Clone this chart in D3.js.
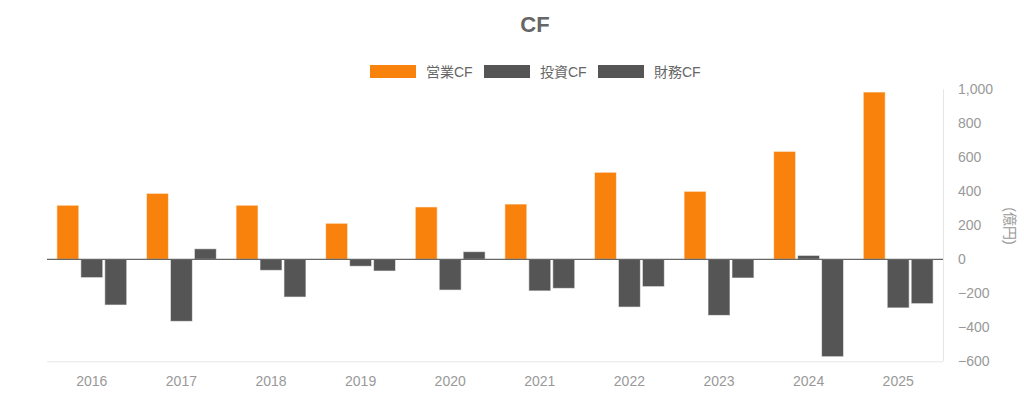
<!DOCTYPE html>
<html>
<head>
<meta charset="utf-8">
<script src="https://cdn.jsdelivr.net/npm/d3@7"></script>
<style>
  body { margin: 0; background: #fff; }
  text { font-family: "Liberation Sans", Arial, "Noto Sans CJK JP", sans-serif; }
</style>
</head>
<body>
<script>
// categories and series (億円)
const years = ["2016", "2017", "2018", "2019", "2020", "2021", "2022", "2023", "2024", "2025"];
const seriesNames = ["営業CF", "投資CF", "財務CF"];
const operating = [318, 388, 318, 212, 308, 325, 512, 400, 635, 984];
const investing = [-108, -365, -65, -41, -181, -186, -281, -330, 23, -286];
const financing = [-269, 62, -222, -69, 45, -171, -161, -110, -573, -261];
const yTicks = [-600, -400, -200, 0, 200, 400, 600, 800, 1000];
const colors = ["#f8820b", "#555555", "#555555"];

var width = 1024,
    height = 395;

const plotLeft = 47, plotRight = 943, plotTop = 89.3, plotBottom = 361.3;

var svg = d3.select('body').append('svg')
    .attr('width', width)
    .attr('height', height);

// title
svg.append('text')
    .attr('x', 535)
    .attr('y', 32)
    .attr('text-anchor', 'middle')
    .attr('font-size', 22)
    .attr('font-weight', 'bold')
    .attr('fill', '#666')
    .text('CF');

// legend
const legendX = [370, 484, 598];
const legend = svg.selectAll('.legend')
    .data(seriesNames)
    .enter()
    .append('g')
    .attr('class', 'legend')
    .attr('transform', function(d, i) { return 'translate(' + legendX[i] + ',65)'; });

legend.append('rect')
    .attr('width', 46)
    .attr('height', 13)
    .attr('fill', function(d, i) { return colors[i]; });

legend.append('text')
    .attr('x', 56)
    .attr('y', 11.5)
    .attr('font-size', 14)
    .attr('fill', '#666')
    .text(function(d) { return d; });

// scales
const x = d3.scaleBand()
    .domain(years)
    .range([plotLeft, plotRight])
    .paddingInner(0.22)
    .paddingOuter(0.11);

const xSub = d3.scaleBand()
    .domain(d3.range(seriesNames.length))
    .range([0, x.bandwidth()])
    .paddingInner(0.083);

const y = d3.scaleLinear()
    .domain([-600, 1000])
    .range([plotBottom, plotTop]);

// right axis line and bottom line
svg.append('line')
    .attr('x1', plotRight + 0.5).attr('x2', plotRight + 0.5)
    .attr('y1', plotTop).attr('y2', plotBottom)
    .attr('stroke', '#e6e6e6');

svg.append('line')
    .attr('x1', plotLeft).attr('x2', plotRight)
    .attr('y1', plotBottom + 0.5).attr('y2', plotBottom + 0.5)
    .attr('stroke', '#e6e6e6');

// bars
const rows = [];
years.forEach(function(yr, i) {
    [operating, investing, financing].forEach(function(s, j) {
        rows.push({ year: yr, s: j, v: s[i] });
    });
});

svg.selectAll('rect.bar')
    .data(rows)
    .enter()
    .append('rect')
    .attr('class', 'bar')
    .attr('x', function(d) { return x(d.year) + xSub(d.s); })
    .attr('y', function(d) { return y(Math.max(0, d.v)); })
    .attr('width', xSub.bandwidth())
    .attr('height', function(d) { return Math.abs(y(d.v) - y(0)); })
    .attr('fill', function(d) { return colors[d.s]; })
    .attr('stroke', '#fff')
    .attr('stroke-width', 1)
    .attr('stroke-opacity', 0.6);

// zero line
svg.append('line')
    .attr('x1', plotLeft).attr('x2', plotRight)
    .attr('y1', y(0)).attr('y2', y(0))
    .attr('stroke', '#666')
    .attr('stroke-width', 1.2);

// x labels
const xAxis = svg.append('g')
    .attr('transform', 'translate(0,' + plotBottom + ')')
    .call(d3.axisBottom(x).tickSize(0).tickPadding(15));
xAxis.select('.domain').remove();
xAxis.selectAll('text')
    .attr('font-size', 14)
    .attr('fill', '#999')
    .style('font-family', '"Liberation Sans", Arial, sans-serif');

// y labels
const yAxis = svg.append('g')
    .attr('transform', 'translate(' + plotRight + ',0)')
    .call(d3.axisRight(y).tickValues(yTicks).tickSize(0).tickPadding(15).tickFormat(d3.format(',')));
yAxis.select('.domain').remove();
yAxis.selectAll('text')
    .attr('font-size', 14)
    .attr('fill', '#999')
    .style('font-family', '"Liberation Sans", Arial, sans-serif');

// unit label
svg.append('text')
    .attr('transform', 'translate(1005,226) rotate(90)')
    .attr('text-anchor', 'middle')
    .attr('font-size', 14)
    .attr('fill', '#999')
    .text('(億円)');
</script>
</body>
</html>
